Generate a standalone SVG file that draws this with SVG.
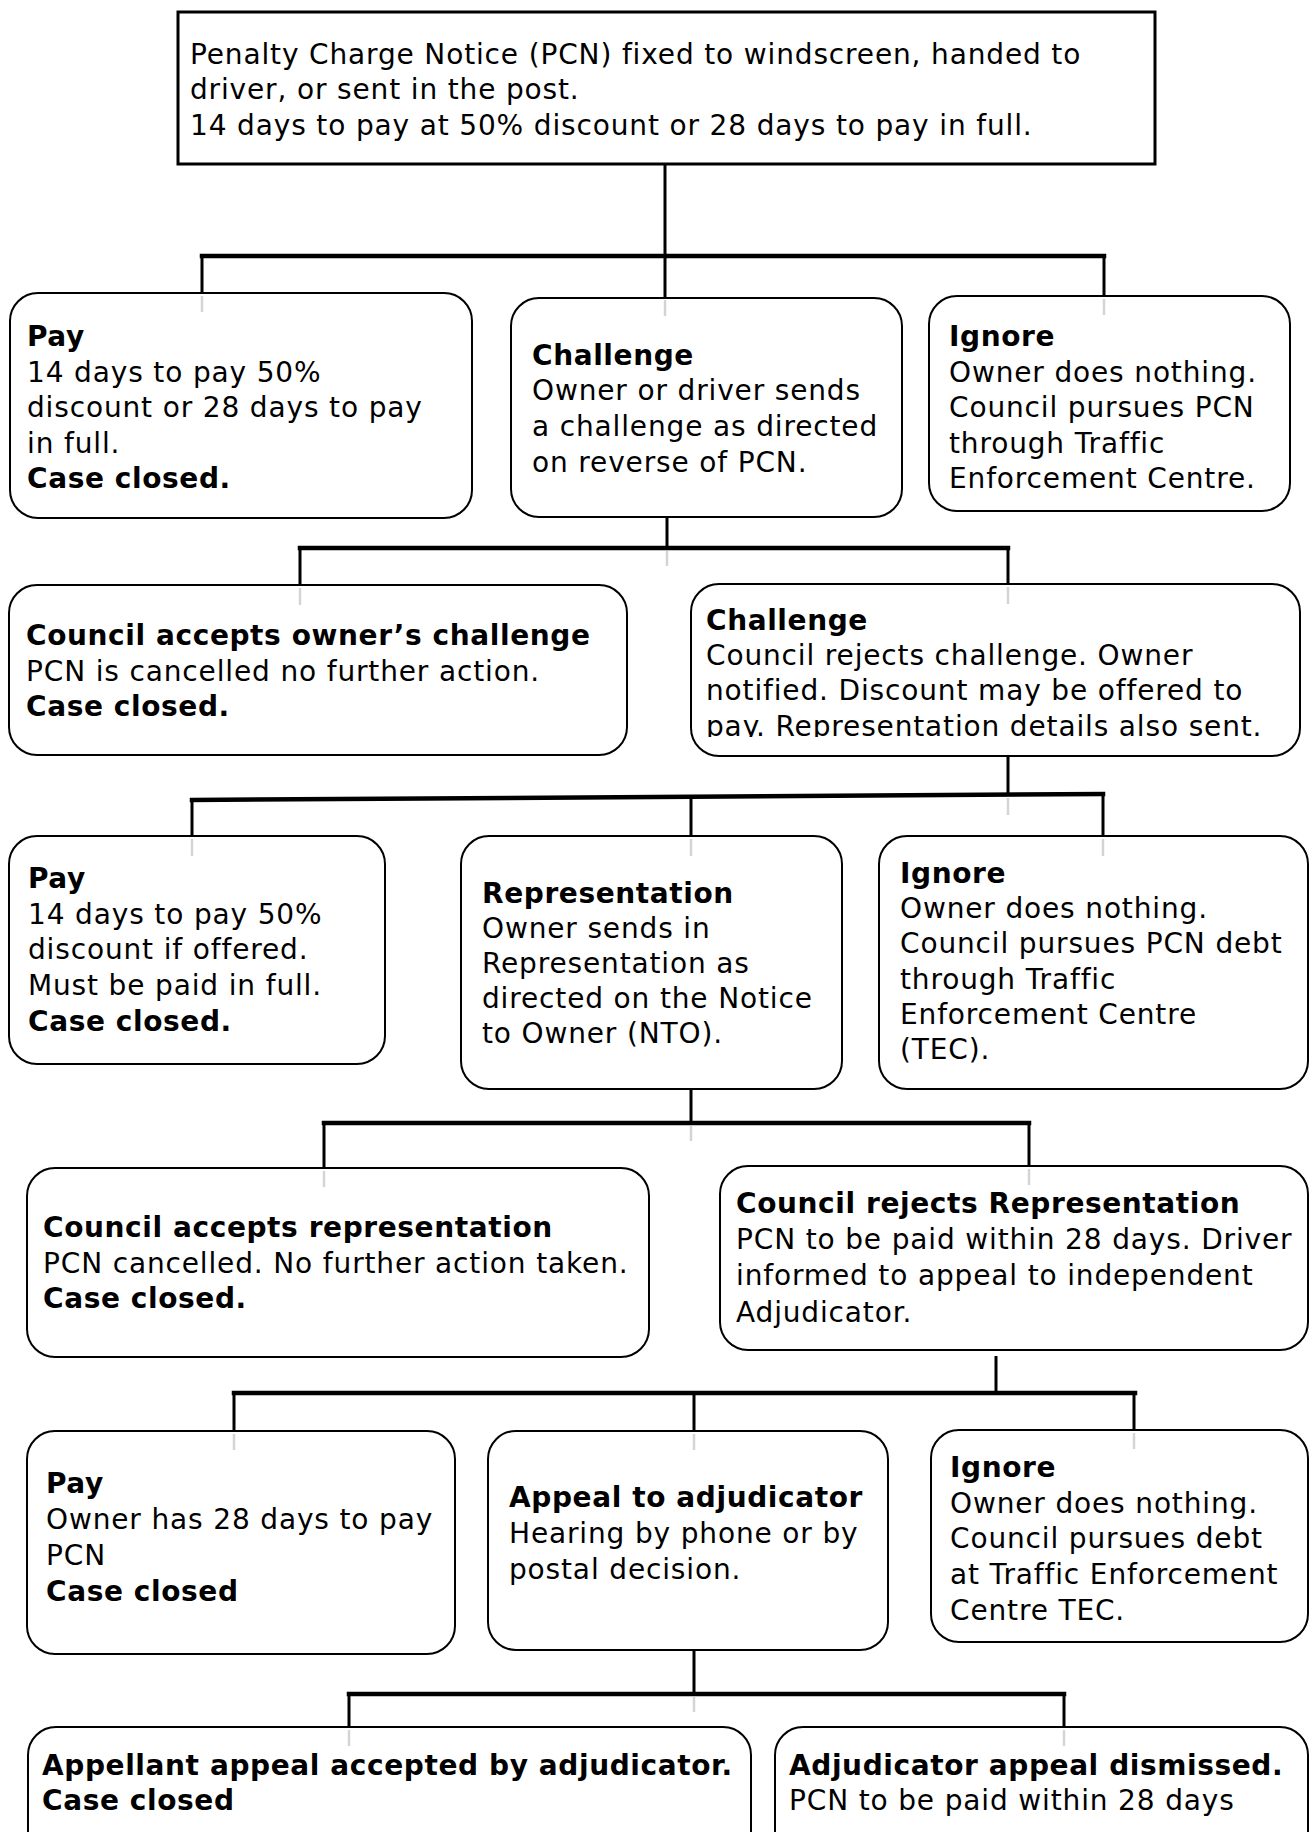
<svg xmlns="http://www.w3.org/2000/svg" width="1309" height="1832" viewBox="0 0 1309 1832">
<style>
text{font-family:"DejaVu Sans","Verdana",sans-serif;font-size:28px;letter-spacing:0.85px;fill:#000}
.b{font-weight:bold;letter-spacing:0.6px}
.box{fill:#fff;stroke:#000;stroke-width:2}
.top{fill:#fff;stroke:#000;stroke-width:3}
.v{stroke:#000;stroke-width:3;fill:none}
.bar{stroke:#000;stroke-width:4.5;fill:none;stroke-linecap:square}
.g{stroke:#d4d4d4;stroke-width:2.5;fill:none}
</style>
<defs>
<clipPath id="clipc2"><rect x="690" y="590" width="615" height="147"/></clipPath>
</defs>
<rect width="1309" height="1832" fill="#fff"/>

<g id="connectors">
<line class="v" x1="665" y1="164" x2="665" y2="297"/>
<line class="bar" x1="202" y1="256" x2="1104" y2="256"/>
<line class="v" x1="202" y1="256" x2="202" y2="293"/>
<line class="v" x1="1104" y1="256" x2="1104" y2="296"/>

<line class="v" x1="667" y1="517" x2="667" y2="548"/>
<line class="bar" x1="300" y1="548" x2="1008" y2="548"/>
<line class="v" x1="300" y1="548" x2="300" y2="586"/>
<line class="v" x1="1008" y1="548" x2="1008" y2="586"/>

<line class="v" x1="1008" y1="756" x2="1008" y2="795"/>
<line class="bar" x1="192" y1="800" x2="1103" y2="794"/>
<line class="v" x1="192" y1="800" x2="192" y2="836"/>
<line class="v" x1="691" y1="797" x2="691" y2="836"/>
<line class="v" x1="1103" y1="794" x2="1103" y2="836"/>

<line class="v" x1="691" y1="1090" x2="691" y2="1123"/>
<line class="bar" x1="324" y1="1123" x2="1029" y2="1123"/>
<line class="v" x1="324" y1="1123" x2="324" y2="1168"/>
<line class="v" x1="1029" y1="1123" x2="1029" y2="1166"/>

<line class="v" x1="996" y1="1356" x2="996" y2="1393"/>
<line class="bar" x1="234" y1="1393" x2="1135" y2="1393"/>
<line class="v" x1="234" y1="1393" x2="234" y2="1431"/>
<line class="v" x1="694" y1="1393" x2="694" y2="1431"/>
<line class="v" x1="1134" y1="1393" x2="1134" y2="1430"/>

<line class="v" x1="694" y1="1650" x2="694" y2="1694"/>
<line class="bar" x1="349" y1="1694" x2="1064" y2="1694"/>
<line class="v" x1="349" y1="1694" x2="349" y2="1727"/>
<line class="v" x1="1064" y1="1694" x2="1064" y2="1727"/>
</g>

<g id="n-top"><rect class="top" x="178" y="12" width="977" height="152"/>
<text x="190" y="64">Penalty Charge Notice (PCN) fixed to windscreen, handed to</text>
<text x="190" y="99">driver, or sent in the post.</text>
<text x="190" y="135">14 days to pay at 50% discount or 28 days to pay in full.</text></g>

<g id="n-pay1"><rect class="box" x="10" y="293" width="462" height="225" rx="28"/>
<line class="g" x1="202" y1="296" x2="202" y2="312"/>
<text class="b" x="27" y="346">Pay</text>
<text x="27" y="382">14 days to pay 50%</text>
<text x="27" y="417">discount or 28 days to pay</text>
<text x="27" y="453">in full.</text>
<text class="b" x="27" y="488">Case closed.</text></g>

<g id="n-challenge1"><rect class="box" x="511" y="298" width="391" height="219" rx="28"/>
<line class="g" x1="665" y1="300" x2="665" y2="316"/>
<text class="b" x="532" y="365">Challenge</text>
<text x="532" y="400">Owner or driver sends</text>
<text x="532" y="436">a challenge as directed</text>
<text x="532" y="472">on reverse of PCN.</text></g>

<g id="n-ignore1"><rect class="box" x="929" y="296" width="361" height="215" rx="28"/>
<line class="g" x1="1104" y1="299" x2="1104" y2="315"/>
<text class="b" x="949" y="346">Ignore</text>
<text x="949" y="382">Owner does nothing.</text>
<text x="949" y="417">Council pursues PCN</text>
<text x="949" y="453">through Traffic</text>
<text x="949" y="488">Enforcement Centre.</text></g>

<line class="g" x1="667" y1="551" x2="667" y2="566"/>

<g id="n-accept1"><rect class="box" x="9" y="585" width="618" height="170" rx="28"/>
<line class="g" x1="300" y1="588" x2="300" y2="605"/>
<text class="b" x="26" y="645">Council accepts owner’s challenge</text>
<text x="26" y="681">PCN is cancelled no further action.</text>
<text class="b" x="26" y="716">Case closed.</text></g>

<g id="n-challenge2"><rect class="box" x="691" y="584" width="609" height="172" rx="28"/>
<line class="g" x1="1008" y1="587" x2="1008" y2="604"/>
<g clip-path="url(#clipc2)">
<text class="b" x="706" y="630">Challenge</text>
<text x="706" y="665">Council rejects challenge. Owner</text>
<text x="706" y="700">notified. Discount may be offered to</text>
<text x="706" y="736">pay. Representation details also sent.</text></g></g>

<line class="g" x1="1008" y1="798" x2="1008" y2="815"/>

<g id="n-pay2"><rect class="box" x="9" y="836" width="376" height="228" rx="28"/>
<line class="g" x1="192" y1="839" x2="192" y2="856"/>
<text class="b" x="28" y="888">Pay</text>
<text x="28" y="924">14 days to pay 50%</text>
<text x="28" y="959">discount if offered.</text>
<text x="28" y="995">Must be paid in full.</text>
<text class="b" x="28" y="1031">Case closed.</text></g>

<g id="n-representation"><rect class="box" x="461" y="836" width="381" height="253" rx="28"/>
<line class="g" x1="691" y1="839" x2="691" y2="856"/>
<text class="b" x="482" y="903">Representation</text>
<text x="482" y="938">Owner sends in</text>
<text x="482" y="973">Representation as</text>
<text x="482" y="1008">directed on the Notice</text>
<text x="482" y="1043">to Owner (NTO).</text></g>

<g id="n-ignore2"><rect class="box" x="879" y="836" width="429" height="253" rx="28"/>
<line class="g" x1="1103" y1="839" x2="1103" y2="856"/>
<text class="b" x="900" y="883">Ignore</text>
<text x="900" y="918">Owner does nothing.</text>
<text x="900" y="953">Council pursues PCN debt</text>
<text x="900" y="989">through Traffic</text>
<text x="900" y="1024">Enforcement Centre</text>
<text x="900" y="1059">(TEC).</text></g>

<line class="g" x1="691" y1="1126" x2="691" y2="1141"/>

<g id="n-accept2"><rect class="box" x="27" y="1168" width="622" height="189" rx="28"/>
<line class="g" x1="324" y1="1171" x2="324" y2="1187"/>
<text class="b" x="43" y="1237">Council accepts representation</text>
<text x="43" y="1273">PCN cancelled. No further action taken.</text>
<text class="b" x="43" y="1308">Case closed.</text></g>

<g id="n-reject"><rect class="box" x="720" y="1166" width="588" height="184" rx="28"/>
<line class="g" x1="1029" y1="1169" x2="1029" y2="1185"/>
<text class="b" x="736" y="1213">Council rejects Representation</text>
<text x="736" y="1249">PCN to be paid within 28 days. Driver</text>
<text x="736" y="1285">informed to appeal to independent</text>
<text x="736" y="1322">Adjudicator.</text></g>

<g id="n-pay3"><rect class="box" x="27" y="1431" width="428" height="223" rx="28"/>
<line class="g" x1="234" y1="1434" x2="234" y2="1450"/>
<text class="b" x="46" y="1493">Pay</text>
<text x="46" y="1529">Owner has 28 days to pay</text>
<text x="46" y="1565">PCN</text>
<text class="b" x="46" y="1601">Case closed</text></g>

<g id="n-appeal"><rect class="box" x="488" y="1431" width="400" height="219" rx="28"/>
<line class="g" x1="694" y1="1434" x2="694" y2="1450"/>
<text class="b" x="509" y="1507">Appeal to adjudicator</text>
<text x="509" y="1543">Hearing by phone or by</text>
<text x="509" y="1579">postal decision.</text></g>

<g id="n-ignore3"><rect class="box" x="931" y="1430" width="377" height="212" rx="28"/>
<line class="g" x1="1134" y1="1433" x2="1134" y2="1449"/>
<text class="b" x="950" y="1477">Ignore</text>
<text x="950" y="1513">Owner does nothing.</text>
<text x="950" y="1548">Council pursues debt</text>
<text x="950" y="1584">at Traffic Enforcement</text>
<text x="950" y="1620">Centre TEC.</text></g>

<line class="g" x1="694" y1="1697" x2="694" y2="1712"/>

<g id="n-appellant"><rect class="box" x="28" y="1727" width="723" height="150" rx="28"/>
<line class="g" x1="349" y1="1730" x2="349" y2="1746"/>
<text class="b" x="42" y="1775">Appellant appeal accepted by adjudicator.</text>
<text class="b" x="42" y="1810">Case closed</text></g>

<g id="n-dismissed"><rect class="box" x="775" y="1727" width="533" height="150" rx="28"/>
<line class="g" x1="1064" y1="1730" x2="1064" y2="1746"/>
<text class="b" x="789" y="1775">Adjudicator appeal dismissed.</text>
<text x="789" y="1810">PCN to be paid within 28 days</text></g>
</svg>
